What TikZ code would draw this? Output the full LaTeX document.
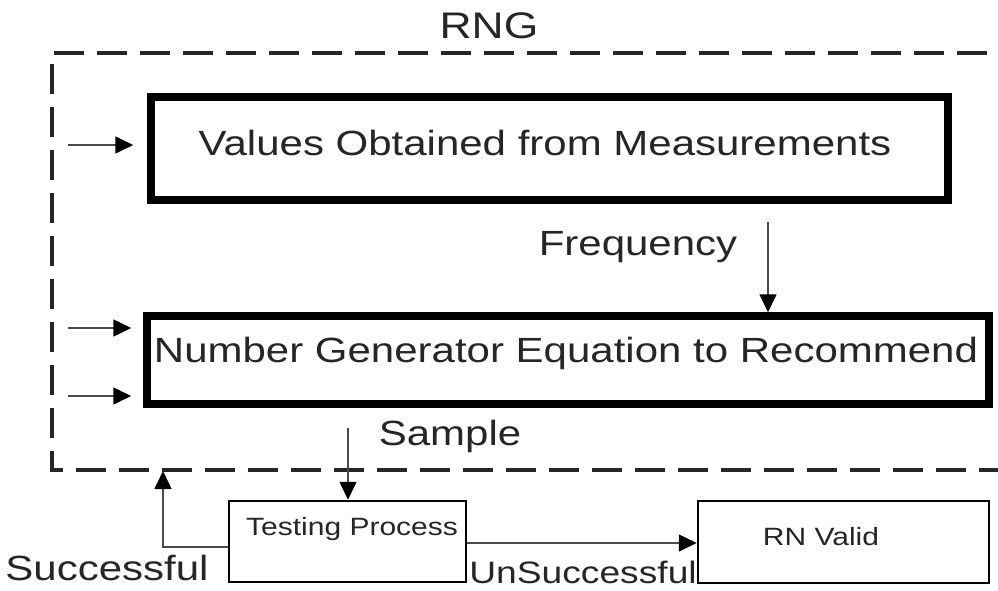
\documentclass[tikz,border=0pt]{standalone}
\usepackage{fontspec}
\setmainfont[FakeStretch=1.2]{Liberation Sans}
\usetikzlibrary{arrows.meta}
\definecolor{ink}{HTML}{262626}
\definecolor{wire}{HTML}{4A4A4A}
\tikzset{
  heavybox/.style={draw=black, line width=7.5pt, minimum width=#1, inner sep=0pt},
  lightbox/.style={draw=black, line width=2.5pt, inner sep=0pt},
  txt/.style={text=ink, inner sep=0pt, anchor=base},
  bigtxt/.style={txt, font=\fontsize{35}{40}\selectfont},
  midtxt/.style={txt, font=\fontsize{31}{36}\selectfont},
  smalltxt/.style={txt, font=\fontsize{25}{30}\selectfont},
  flow/.style={draw=wire, line width=1.6pt,
    -{Triangle[length=18pt,width=17pt,color=black]}},
  group/.style={draw=black!85, line width=4pt, dash pattern=on 30pt off 13pt},
}
\begin{document}
\begin{tikzpicture}[x=1pt,y=-1pt]
\useasboundingbox (0,0) rectangle (998,590);
\clip (0,0) rectangle (998,590);

% dashed outline of the generator block (right side runs off the page)
\draw[group] (1030,53) -- (52,53) -- (52,470) -- (1030,470);
\node[bigtxt, font=\fontsize{37}{42}\selectfont] (rng) at (489,38) {RNG};

% main blocks
\node[heavybox=797pt, minimum height=103pt] (meas) at (549.5,148.5) {};
\node[bigtxt] (meastxt) at (545,155) {Values Obtained from Measurements};

\node[heavybox=842pt, minimum height=88pt] (eqn) at (568,360) {};
\node[bigtxt] (eqntxt) at (566,362) {Number Generator Equation to Recommend};

\node[lightbox, minimum width=237pt, minimum height=81pt] (test) at (347.5,541.5) {};
\node[smalltxt] (testtxt) at (352,535) {Testing Process};

\node[lightbox, minimum width=291pt, minimum height=82pt] (valid) at (843.5,542) {};
\node[smalltxt] (validtxt) at (821,545) {RN Valid};

% inputs entering from the left
\coordinate (in1) at (68,145);
\coordinate (in2) at (68,328);
\coordinate (in3) at (68,396);
\draw[flow, shorten >=14pt] (in1) -- (in1 -| meas.west);
\draw[flow, shorten >=12pt] (in2) -- (in2 -| eqn.west);
\draw[flow, shorten >=12pt] (in3) -- (in3 -| eqn.west);

% frequency feed
\coordinate (fq) at (768,222);
\draw[flow] (fq) -- (fq |- eqn.north);
\node[bigtxt] (fqlbl) at (638,255) {Frequency};

% sample feed
\coordinate (sm) at (348,428);
\draw[flow] (sm) -- (sm |- test.north);
\node[bigtxt] (smlbl) at (450,445) {Sample};

% test outcomes
\coordinate (ok) at (163,547);
\coordinate (okend) at (163,471);
\draw[flow] (ok -| test.west) -- (ok) -- (okend);
\node[bigtxt] (oklbl) at (107,580) {Successful};

\coordinate (fail) at (467,543);
\draw[flow] (fail -| test.east) -- (fail -| valid.west);
\node[midtxt] (faillbl) at (583,583) {UnSuccessful};
\end{tikzpicture}
\end{document}
